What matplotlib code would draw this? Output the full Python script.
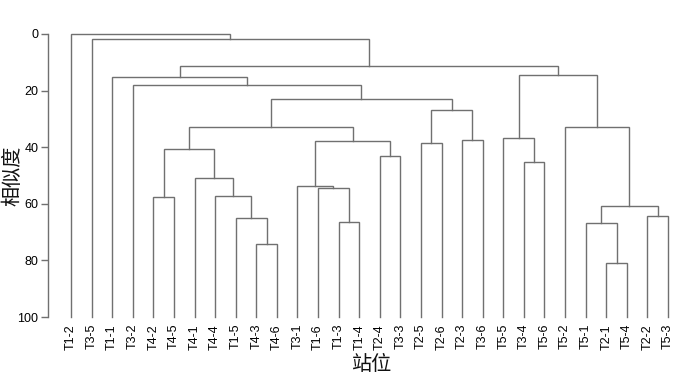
import matplotlib
matplotlib.use("Agg")
import matplotlib.pyplot as plt
from matplotlib import font_manager

# Pick the regular (non-narrow) Liberation Sans file
lib = [f.fname for f in font_manager.fontManager.ttflist
       if f.fname.endswith('LiberationSans-Regular.ttf')]
if lib:
    font_manager.fontManager.addfont(lib[0])
    latin = font_manager.FontProperties(fname=lib[0]).get_name()
else:
    latin = 'DejaVu Sans'
plt.rcParams['font.family'] = [latin, 'DejaVu Sans']

# Leaf order (left to right)
leaves = ["T1-2", "T3-5", "T1-1", "T3-2", "T4-2", "T4-5", "T4-1", "T4-4", "T1-5", "T4-3",
          "T4-6", "T3-1", "T1-6", "T1-3", "T1-4", "T2-4", "T3-3", "T2-5", "T2-6", "T2-3",
          "T3-6", "T5-5", "T3-4", "T5-6", "T5-2", "T5-1", "T2-1", "T5-4", "T2-2", "T5-3"]

# Merges: (name, left child, right child, similarity)
merges = [
    ("A", "T4-3", "T4-6", 74.3),
    ("B", "T1-5", "A", 64.9),
    ("C", "T4-4", "B", 57.1),
    ("D", "T4-1", "C", 50.8),
    ("E", "T4-2", "T4-5", 57.7),
    ("F", "E", "D", 40.8),
    ("G", "T1-3", "T1-4", 66.5),
    ("H", "T1-6", "G", 54.3),
    ("I", "T3-1", "H", 53.7),
    ("J", "T2-4", "T3-3", 43.0),
    ("K", "I", "J", 37.7),
    ("L", "F", "K", 32.7),
    ("M", "T2-5", "T2-6", 38.6),
    ("N", "T2-3", "T3-6", 37.3),
    ("O", "M", "N", 26.9),
    ("P", "L", "O", 23.0),
    ("Q", "T3-2", "P", 18.1),
    ("R", "T1-1", "Q", 15.1),
    ("S1", "T3-4", "T5-6", 45.3),
    ("S2", "T5-5", "S1", 36.9),
    ("T", "T2-1", "T5-4", 81.0),
    ("U", "T5-1", "T", 66.8),
    ("V", "T2-2", "T5-3", 64.2),
    ("W", "U", "V", 60.8),
    ("X", "T5-2", "W", 32.7),
    ("Y", "S2", "X", 14.5),
    ("Z", "R", "Y", 11.2),
    ("AA", "T3-5", "Z", 1.9),
    ("BB", "T1-2", "AA", 0.0),
]

yticks = [0, 20, 40, 60, 80, 100]
leaf_level = 100

fig = plt.figure(figsize=(7, 3.8), dpi=100)
left_px, right_px = 48, 690
top_px, bot_px = 34, 317
ax = fig.add_axes([left_px / 700, 1 - bot_px / 380, (right_px - left_px) / 700, (bot_px - top_px) / 380])

pos = {name: (i, leaf_level) for i, name in enumerate(leaves)}
lc = '#707070'
for name, a, b, h in merges:
    xa, ha = pos[a]
    xb, hb = pos[b]
    ax.plot([xa, xa, xb, xb], [ha, h, h, hb], color=lc, lw=1.0, solid_joinstyle='miter', clip_on=False)
    pos[name] = ((xa + xb) / 2, h)

step = 20.586
x0 = -(71 - left_px) / step
ax.set_xlim(x0, x0 + (right_px - left_px) / step)
ax.set_ylim(100, 0)

for s in ['top', 'right', 'bottom']:
    ax.spines[s].set_visible(False)
ax.spines['left'].set_color(lc)
ax.spines['left'].set_linewidth(1.0)
ax.set_yticks(yticks)
ax.set_yticklabels([str(v) for v in yticks], fontsize=9, color='#000000')
ax.tick_params(axis='y', length=5, width=1.0, color=lc, pad=2)

ax.set_xticks(range(len(leaves)))
ax.set_xticklabels(leaves, rotation=90, fontsize=9, color='#000000')
ax.tick_params(axis='x', length=0, pad=5)

cjk = ['Noto Sans CJK SC', 'DejaVu Sans']
fig.text(371 / 700, 1 - 365 / 380, "站位", ha='center', va='center', fontsize=14.5,
         family=cjk, color='#111111')
fig.text(13 / 700, 1 - 176 / 380, "相似度", ha='center', va='center', rotation=90, fontsize=14.5,
         family=cjk, color='#111111')

fig.savefig("out.png", dpi=100)
